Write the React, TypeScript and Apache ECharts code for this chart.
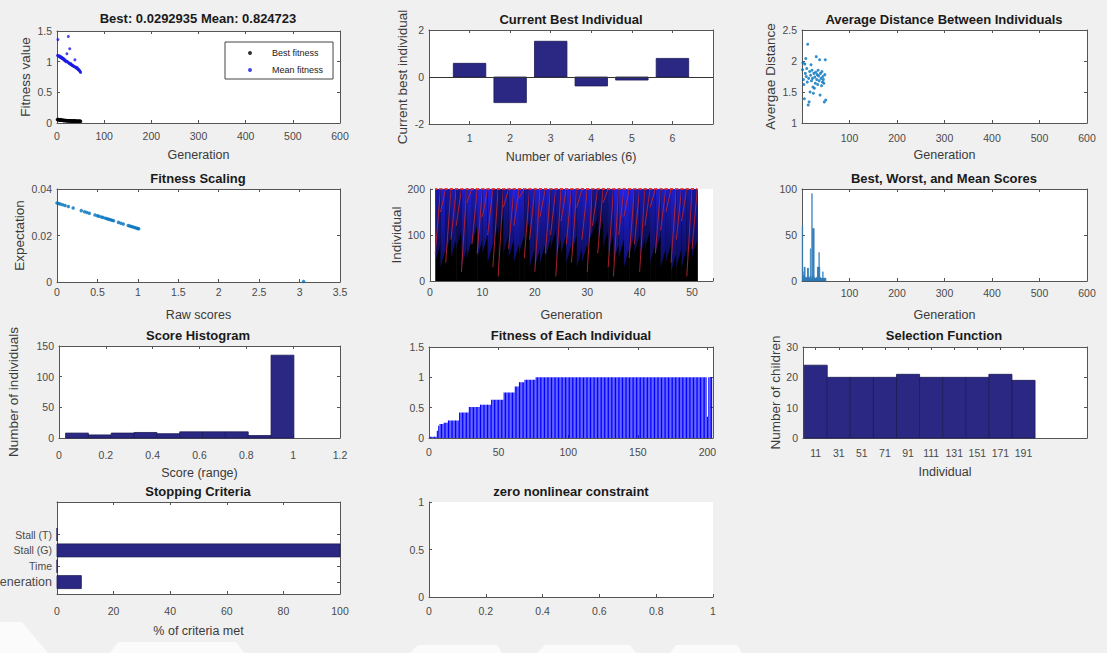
import React, { useEffect, useRef } from 'react';
import * as echarts from 'echarts';

const WIDTH = 1107;
const HEIGHT = 653;
const FONT = '"Liberation Sans", Arial, Helvetica, sans-serif';
const AXIS_COLOR = '#555555';
const LABEL_COLOR = '#4a4a4a';
const NAME_COLOR = '#3a3a3a';
const NAVY = '#2B2883';

// ---------- Panel 1: Best / Mean fitness per generation ----------
const bestFitness = [0.058, 0.055, 0.055, 0.052, 0.05, 0.05, 0.048, 0.047, 0.047, 0.045, 0.044, 0.044, 0.043, 0.042, 0.041, 0.041, 0.04, 0.039, 0.039, 0.038, 0.037, 0.037, 0.036, 0.036, 0.035, 0.035, 0.034, 0.034, 0.034, 0.033, 0.033, 0.033, 0.032, 0.032, 0.032, 0.031, 0.031, 0.031, 0.031, 0.03, 0.03, 0.03, 0.03, 0.03, 0.03, 0.029, 0.029, 0.029, 0.029, 0.0293];
const meanFitness = [1.1, 1.36, 1.1, 1.09, 1.08, 1.09, 1.07, 1.08, 1.06, 1.07, 1.05, 1.06, 1.04, 1.05, 1.03, 1.02, 1.03, 1.01, 1.0, 1.01, 1.13, 1.0, 0.99, 1.41, 0.98, 0.97, 1.21, 0.96, 0.97, 0.95, 0.95, 0.94, 0.94, 0.93, 0.93, 0.92, 0.92, 1.03, 0.91, 0.9, 0.91, 0.89, 0.9, 0.88, 0.87, 0.87, 0.86, 0.85, 0.84, 0.825];

// ---------- Panel 2: Current best individual ----------
const variableIndex = [1, 2, 3, 4, 5, 6];
const bestIndividual = [0.58, -1.09, 1.52, -0.38, -0.13, 0.79];

// ---------- Panel 3: Average distance ----------
const avgDistance = [1.86, 1.97, 1.7, 1.62, 1.39, 1.95, 1.8, 2.04, 1.75, 1.88, 1.66, 2.27, 1.29, 1.72, 1.34, 1.83, 1.5, 1.77, 1.94, 1.68, 1.85, 1.72, 1.58, 1.48, 1.8, 1.56, 1.74, 1.64, 1.82, 2.07, 1.7, 1.78, 1.62, 1.85, 1.76, 1.68, 2.02, 1.45, 1.8, 1.72, 1.6, 1.83, 1.66, 1.75, 1.7, 1.64, 1.34, 1.78, 2.02, 1.37];

// ---------- Panel 4: Fitness scaling ----------
const rawScores = [0.0, 0.02, 0.04, 0.07, 0.1, 0.14, 0.2, 0.3, 0.34, 0.37, 0.4, 0.47, 0.5, 0.52, 0.55, 0.57, 0.6, 0.62, 0.64, 0.66, 0.68, 0.7, 0.76, 0.79, 0.82, 0.88, 0.9, 0.92, 0.94, 0.96, 0.98, 1.0, 1.01, 3.05];
const expectation = [0.034, 0.03378, 0.03356, 0.03323, 0.0329, 0.03246, 0.0318, 0.0307, 0.03026, 0.02993, 0.0296, 0.02883, 0.0285, 0.02828, 0.02795, 0.02773, 0.0274, 0.02718, 0.02696, 0.02674, 0.02652, 0.0263, 0.02564, 0.02531, 0.02498, 0.02432, 0.0241, 0.02388, 0.02366, 0.02344, 0.02322, 0.023, 0.02289, 0.0002];

// ---------- Panel 5: Genealogy (per generation) ----------
const genealogyBlueStart = [40, 30, 60, 50, 70, 30, 50, 80, 50, 60, 40, 80, 100, 60, 50, 40, 60, 90, 30, 30, 40, 50, 70, 50, 60, 40, 60, 30, 40, 70, 100, 90, 70, 60, 40, 50, 30, 60, 60, 50, 70, 40, 60, 30, 40, 20, 30, 30, 50, 50];
const genealogyBlueAlpha = [0.7, 0.85, 0.65, 0.75, 0.6, 0.8, 0.85, 0.75, 0.9, 0.95, 0.9, 0.55, 0.5, 0.65, 0.85, 0.9, 0.85, 0.65, 0.75, 0.85, 0.8, 0.85, 0.7, 0.65, 0.85, 0.9, 0.85, 0.75, 0.8, 0.85, 0.6, 0.5, 0.55, 0.65, 0.9, 0.95, 0.95, 0.9, 0.75, 0.7, 0.65, 0.75, 0.85, 0.8, 0.75, 0.85, 0.8, 0.75, 0.7, 0.65];
const genealogyRedStart = [60, 150, 40, 90, 120, 20, 170, 80, 60, 140, 100, 30, 10, 160, 70, 120, 180, 50, 90, 20, 140, 60, 100, 10, 130, 80, 40, 160, 90, 20, 120, 60, 170, 30, 10, 100, 140, 50, 80, 20, 120, 160, 60, 110, 150, 40, 90, 130, 10, 70];

// ---------- Panel 6: Best, worst and mean scores ----------
const scoreSpread = [60, 10, 6, 4, 15, 15, 4, 3, 3, 4, 3, 14, 14, 4, 3, 3, 5, 35, 4, 3, 95, 5, 57, 57, 57, 4, 3, 3, 3, 3, 4, 3, 15, 15, 15, 31, 15, 4, 3, 3, 3, 3, 3, 10, 3, 3, 3, 3, 3, 3];

// ---------- Panel 7: Score histogram ----------
const histCenters = [0.0768, 0.1743, 0.2718, 0.3693, 0.4668, 0.5643, 0.6618, 0.7593, 0.8568, 0.9543];
const histCounts = [8, 5, 8, 9, 7, 10, 10, 10, 4, 135];
const histBinWidth = 0.0975;

// ---------- Panel 8: Fitness of each individual (value, run length) ----------
const individualFitnessRuns: [number, number][] = [
  [0.02, 5], [0.12, 1], [0.2, 1], [0.23, 3], [0.25, 3], [0.29, 8], [0.42, 7], [0.51, 8], [0.55, 8],
  [0.63, 9], [0.75, 8], [0.85, 3], [0.92, 4], [0.96, 8], [1.0, 123], [0.35, 1], [1.0, 3],
];

// ---------- Panel 9: Selection function ----------
const selectionCenters = [11, 31, 51, 71, 91, 111, 131, 151, 171, 191];
const selectionChildren = [24, 20, 20, 20, 21, 20, 20, 20, 21, 19];

// ---------- Panel 10: Stopping criteria ----------
const criteriaNames = ['Generation', 'Time', 'Stall (G)', 'Stall (T)'];
const criteriaMet = [8.6, 0, 100, 0];

type AnyObj = Record<string, any>;

function fmt(v: number) {
  return String(Number(v.toFixed(6)));
}

function makeAxis(gridIndex: number, position: string, o: AnyObj, mirror: boolean): AnyObj {
  const a: AnyObj = {
    type: 'value',
    gridIndex,
    position,
    min: o.min,
    max: o.max,
    axisLine: { show: true, onZero: false, lineStyle: { color: AXIS_COLOR, width: 1 } },
    axisTick: { show: true, inside: true, length: 3, lineStyle: { color: AXIS_COLOR, width: 1 } },
    axisLabel: { show: !mirror, color: LABEL_COLOR, fontSize: 10.5, fontFamily: FONT, margin: o.margin ?? 5, formatter: (v: number) => fmt(v) },
    splitLine: { show: false },
  };
  if (o.interval !== undefined) a.interval = o.interval;
  if (o.customValues) {
    a.axisTick.customValues = o.customValues;
    a.axisLabel.customValues = o.customValues;
  }
  if (!mirror) {
    if (o.formatter) a.axisLabel.formatter = o.formatter;
    if (o.rich) a.axisLabel.rich = o.rich;
    if (o.name) {
      a.name = o.name;
      a.nameLocation = 'middle';
      a.nameGap = o.nameGap;
      a.nameTextStyle = { color: NAME_COLOR, fontSize: o.nameSize ?? 12.5, fontFamily: FONT };
    }
  }
  return a;
}

function rectSeries(xi: number, yi: number, data: number[][], halfW: number, fill: string, stroke: string, lineWidth: number, horizontal = false): AnyObj {
  return {
    type: 'custom',
    xAxisIndex: xi,
    yAxisIndex: yi,
    silent: true,
    encode: horizontal ? { x: 1, y: 0 } : { x: 0, y: 1 },
    renderItem: (_p: any, api: any) => {
      const c = api.value(0);
      const v = api.value(1);
      const p0 = horizontal ? api.coord([0, c - halfW]) : api.coord([c - halfW, 0]);
      const p1 = horizontal ? api.coord([v, c + halfW]) : api.coord([c + halfW, v]);
      return {
        type: 'rect',
        shape: {
          x: Math.min(p0[0], p1[0]),
          y: Math.min(p0[1], p1[1]),
          width: Math.abs(p1[0] - p0[0]),
          height: Math.abs(p1[1] - p0[1]),
        },
        style: { fill, stroke, lineWidth },
      };
    },
    data,
  };
}

function buildOption() {
  const grids: AnyObj[] = [];
  const xAxes: AnyObj[] = [];
  const yAxes: AnyObj[] = [];
  const series: AnyObj[] = [];
  const graphics: AnyObj[] = [];

  function panel(g: { left: number; top: number; width: number; height: number }, x: AnyObj, y: AnyObj, box: boolean, title?: { text: string; cx: number; cy: number }) {
    const gi = grids.length;
    grids.push({ ...g, show: true, backgroundColor: '#ffffff', borderWidth: 0, containLabel: false, outerBoundsMode: 'none' });
    const xi = xAxes.length;
    const yi = yAxes.length;
    xAxes.push(makeAxis(gi, 'bottom', x, false));
    yAxes.push(makeAxis(gi, 'left', y, false));
    if (box) {
      xAxes.push(makeAxis(gi, 'top', x, true));
      yAxes.push(makeAxis(gi, 'right', y, true));
    }
    if (title) {
      graphics.push({
        type: 'text',
        x: title.cx,
        y: title.cy,
        style: {
          text: title.text,
          fill: '#1a1a1a',
          fontSize: 13,
          fontWeight: 'bold',
          fontFamily: FONT,
          align: 'center',
          verticalAlign: 'middle',
        },
      });
    }
    return { xi, yi };
  }

  // 1 ---------------------------------------------------------------
  const p1 = panel(
    { left: 57, top: 31, width: 283, height: 92 },
    { min: 0, max: 600, interval: 100, margin: 7, name: 'Generation', nameGap: 25 },
    { min: 0, max: 1.5, interval: 0.5, name: 'Fitness value', nameGap: 25, nameSize: 13.5 },
    true,
    { text: 'Best: 0.0292935 Mean: 0.824723', cx: 198, cy: 18 }
  );
  series.push({
    name: 'Best fitness',
    type: 'scatter',
    xAxisIndex: p1.xi,
    yAxisIndex: p1.yi,
    symbol: 'circle',
    symbolSize: 3.5,
    itemStyle: { color: '#000000' },
    data: bestFitness.map((v, i) => [i + 1, v]),
  });
  series.push({
    name: 'Mean fitness',
    type: 'scatter',
    xAxisIndex: p1.xi,
    yAxisIndex: p1.yi,
    symbol: 'circle',
    symbolSize: 3,
    itemStyle: { color: '#1a1ae0' },
    data: meanFitness.map((v, i) => [i + 1, v]),
  });

  // 2 ---------------------------------------------------------------
  const p2 = panel(
    { left: 429, top: 30, width: 284, height: 94 },
    { min: 0, max: 7, interval: 1, margin: 8, formatter: (v: number) => (v >= 1 && v <= 6 ? String(v) : ''), name: 'Number of variables (6)', nameGap: 26 },
    { min: -2, max: 2, interval: 2, name: 'Current best individual', nameGap: 20, nameSize: 13.5 },
    true,
    { text: 'Current Best Individual', cx: 571, cy: 19 }
  );
  const s2 = rectSeries(p2.xi, p2.yi, variableIndex.map((x, i) => [x, bestIndividual[i]]), 0.4, NAVY, '#1c1a55', 0.8);
  s2.markLine = { silent: true, symbol: 'none', label: { show: false }, lineStyle: { color: '#333', type: 'solid', width: 1 }, data: [{ yAxis: 0 }] };
  series.push(s2);

  // 3 ---------------------------------------------------------------
  const p3 = panel(
    { left: 802, top: 30, width: 285, height: 93 },
    { min: 0, max: 600, interval: 100, margin: 9, formatter: (v: number) => (v === 0 ? '' : fmt(v)), name: 'Generation', nameGap: 25 },
    { min: 1, max: 2.5, interval: 0.5, name: 'Avergae Distance', nameGap: 25, nameSize: 13.5 },
    true,
    { text: 'Average Distance Between Individuals', cx: 944, cy: 19 }
  );
  series.push({
    type: 'scatter',
    xAxisIndex: p3.xi,
    yAxisIndex: p3.yi,
    symbolSize: 3,
    itemStyle: { color: '#0072BD' },
    data: avgDistance.map((v, i) => [i + 1, v]),
  });

  // 4 ---------------------------------------------------------------
  const p4 = panel(
    { left: 57, top: 189, width: 283, height: 93 },
    { min: 0, max: 3.5, interval: 0.5, margin: 4, name: 'Raw scores', nameGap: 26 },
    { min: 0, max: 0.04, interval: 0.02, name: 'Expectation', nameGap: 31, nameSize: 13.5 },
    true,
    { text: 'Fitness Scaling', cx: 198, cy: 178 }
  );
  series.push({
    type: 'scatter',
    xAxisIndex: p4.xi,
    yAxisIndex: p4.yi,
    symbolSize: 3.5,
    itemStyle: { color: '#0072BD' },
    data: rawScores.map((x, i) => [x, expectation[i]]),
  });

  // 5 ---------------------------------------------------------------
  const p5 = panel(
    { left: 430, top: 189, width: 283, height: 92 },
    { min: 0, max: 54, interval: 10, margin: 5, formatter: (v: number) => (v % 10 === 0 ? String(v) : ''), name: 'Generation', nameGap: 27 },
    { min: 0, max: 200, interval: 100, name: 'Individual', nameGap: 26, nameSize: 13.5 },
    false
  );
  series.push({
    type: 'custom',
    xAxisIndex: p5.xi,
    yAxisIndex: p5.yi,
    silent: true,
    renderItem: (_p: any, api: any) => {
      const g = api.value(0);
      const blo = api.value(1);
      const alpha = api.value(2);
      const rlo = api.value(3);
      const a = api.coord([g, 0]);
      const b = api.coord([g + 1, 200]);
      const bl = api.coord([g, blo]);
      const br = api.coord([g + 1, Math.min(200, blo + 40)]);
      const rl = api.coord([g, rlo]);
      return {
        type: 'group',
        children: [
          { type: 'rect', shape: { x: a[0], y: b[1], width: b[0] - a[0] + 0.6, height: a[1] - b[1] }, style: { fill: '#000000' } },
          {
            type: 'polygon',
            shape: { points: [[bl[0], bl[1]], [a[0], b[1]], [b[0], b[1]], [br[0], br[1]]] },
            style: {
              fill: new echarts.graphic.LinearGradient(0, 0, 0, 1, [
                { offset: 0, color: `rgba(35,35,245,${alpha})` },
                { offset: 1, color: `rgba(35,35,245,${alpha * 0.45})` },
              ]),
            },
          },
          { type: 'line', shape: { x1: rl[0], y1: rl[1], x2: b[0], y2: b[1] }, style: { stroke: '#b82430', lineWidth: 0.9 } },
          { type: 'line', shape: { x1: a[0], y1: b[1], x2: b[0], y2: b[1] }, style: { stroke: '#e03030', lineWidth: 2, lineDash: [2, 2] } },
        ],
      };
    },
    data: genealogyBlueStart.map((v, i) => [i + 1, v, genealogyBlueAlpha[i], genealogyRedStart[i]]),
  });

  // 6 ---------------------------------------------------------------
  const p6 = panel(
    { left: 802, top: 189, width: 285, height: 92 },
    { min: 0, max: 600, interval: 100, margin: 6, formatter: (v: number) => (v === 0 ? '' : fmt(v)), name: 'Generation', nameGap: 27 },
    { min: 0, max: 100, interval: 50 },
    true,
    { text: 'Best, Worst, and Mean Scores', cx: 944, cy: 178 }
  );
  series.push(rectSeries(p6.xi, p6.yi, scoreSpread.map((v, i) => [i + 1, v]), 0.5, '#9ccbea', '#1f6fb0', 0.6));

  // 7 ---------------------------------------------------------------
  const p7 = panel(
    { left: 59, top: 346, width: 281, height: 92 },
    { min: 0, max: 1.2, interval: 0.2, margin: 11, name: 'Score (range)', nameGap: 28 },
    { min: 0, max: 150, interval: 50, name: 'Number of individuals', nameGap: 39, nameSize: 13.5 },
    true,
    { text: 'Score Histogram', cx: 198, cy: 335 }
  );
  series.push(rectSeries(p7.xi, p7.yi, histCenters.map((c, i) => [c, histCounts[i]]), histBinWidth / 2, NAVY, '#1c1a55', 0.8));

  // 8 ---------------------------------------------------------------
  const p8 = panel(
    { left: 429, top: 347, width: 284, height: 91 },
    { min: 0, max: 204, interval: 50, margin: 8, formatter: (v: number) => (v % 50 === 0 ? String(v) : '') },
    { min: 0, max: 1.5, interval: 0.5 },
    true,
    { text: 'Fitness of Each Individual', cx: 571, cy: 335 }
  );
  const fitnessEach: number[][] = [];
  individualFitnessRuns.forEach(([v, n]) => {
    for (let k = 0; k < n; k++) fitnessEach.push([fitnessEach.length + 1, v]);
  });
  series.push(rectSeries(p8.xi, p8.yi, fitnessEach, 0.4, '#0000ff', 'none', 0));

  // 9 ---------------------------------------------------------------
  const p9 = panel(
    { left: 803, top: 347, width: 284, height: 91 },
    { min: 0, max: 246, customValues: selectionCenters, margin: 9, formatter: (v: number) => String(v), name: 'Individual', nameGap: 27 },
    { min: 0, max: 30, interval: 10, name: 'Number of children', nameGap: 21, nameSize: 13.5 },
    true,
    { text: 'Selection Function', cx: 944, cy: 335 }
  );
  series.push(rectSeries(p9.xi, p9.yi, selectionCenters.map((c, i) => [c, selectionChildren[i]]), 10, NAVY, '#1c1a55', 0.8));

  // 10 --------------------------------------------------------------
  const p10 = panel(
    { left: 57, top: 502, width: 283, height: 92 },
    { min: 0, max: 100, interval: 20, margin: 11, name: '% of criteria met', nameGap: 30 },
    {
      min: 0.25,
      max: 6.05,
      customValues: [1, 2, 3, 4],
      formatter: (v: number) => (v === 1 ? '{g|' + criteriaNames[0] + '}' : criteriaNames[Math.round(v) - 1] ?? ''),
      rich: { g: { fontSize: 12.5, color: LABEL_COLOR, fontFamily: FONT } },
    },
    true,
    { text: 'Stopping Criteria', cx: 198, cy: 491.5 }
  );
  series.push(rectSeries(p10.xi, p10.yi, criteriaMet.map((v, i) => [i + 1, v]), 0.41, NAVY, '#1c1a55', 0.8, true));

  // 11 --------------------------------------------------------------
  const p11 = panel(
    { left: 429, top: 502, width: 284, height: 95 },
    { min: 0, max: 1, interval: 0.2, margin: 8 },
    { min: 0, max: 1, interval: 0.5 },
    false,
    { text: 'zero nonlinear constraint', cx: 571, cy: 491.5 }
  );
  series.push({ type: 'line', xAxisIndex: p11.xi, yAxisIndex: p11.yi, data: [], silent: true });

  // faint watermark shapes along the bottom edge
  const marks = [
    [[0, 622], [22, 622], [48, 653], [0, 653]],
    [[118, 642], [236, 642], [244, 653], [110, 653]],
    [[418, 645], [497, 645], [502, 653], [410, 653]],
    [[545, 645], [630, 645], [636, 653], [537, 653]],
    [[676, 645], [737, 645], [742, 653], [670, 653]],
  ];
  marks.forEach((pts) => {
    graphics.push({ type: 'polygon', silent: true, shape: { points: pts }, style: { fill: '#ffffff', opacity: 0.75 } });
  });

  return {
    animation: false,
    backgroundColor: '#f0f0f0',
    textStyle: { fontFamily: FONT },
    grid: grids,
    xAxis: xAxes,
    yAxis: yAxes,
    series,
    graphic: graphics,
    legend: {
      data: [
        { name: 'Best fitness', icon: 'circle' },
        { name: 'Mean fitness', icon: 'circle' },
      ],
      orient: 'vertical',
      left: 225,
      top: 42,
      itemWidth: 4,
      itemHeight: 4,
      itemGap: 5,
      padding: [5, 10, 3, 23],
      backgroundColor: '#ffffff',
      borderColor: '#444444',
      borderWidth: 1,
      selectedMode: false,
      textStyle: { fontSize: 9, color: '#222222', fontFamily: FONT, lineHeight: 12, padding: [0, 0, 0, 15] },
    },
  };
}

export default function App() {
  const ref = useRef<HTMLDivElement>(null);
  useEffect(() => {
    if (!ref.current) return;
    const chart = echarts.init(ref.current, null, { renderer: 'svg', width: WIDTH, height: HEIGHT });
    chart.setOption(buildOption() as any);
    return () => chart.dispose();
  }, []);
  return (
    <div
      ref={ref}
      style={{ position: 'fixed', left: 0, top: 0, width: WIDTH, height: HEIGHT, background: '#f0f0f0' }}
    />
  );
}
